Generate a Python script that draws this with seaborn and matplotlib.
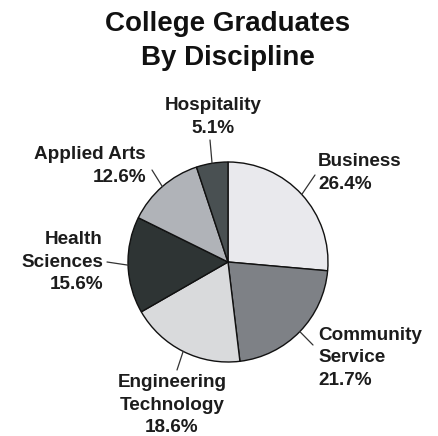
import numpy as np
import matplotlib
matplotlib.use("Agg")
import matplotlib.pyplot as plt
import seaborn as sns

# --- DATA ---
disciplines = ["Business", "Community\nService", "Engineering\nTechnology",
               "Health\nSciences", "Applied Arts", "Hospitality"]
shares = [26.4, 21.7, 18.6, 15.6, 12.6, 5.1]
colors = ["#e9e9ed", "#7e8186", "#d9dadc", "#2e3434", "#b0b3b8", "#495052"]

sns.set_theme(style="white")
plt.rcParams['font.family'] = ['Liberation Sans', 'DejaVu Sans']

W, H = 438, 436
CX, CY, R = 228, 262, 100

fig = plt.figure(figsize=(W / 100, H / 100), dpi=100)
ax = fig.add_axes([(CX - R) / W, (H - CY - R) / H, 2 * R / W, 2 * R / H])

wedges, _ = ax.pie(shares, colors=colors, startangle=90, counterclock=False,
                   wedgeprops=dict(edgecolor="#111111", linewidth=1.0))
ax.set_xlim(-1, 1)
ax.set_ylim(-1, 1)
ax.set_aspect("equal")
ax.axis("off")

# label placement (data units, radius = 1)
text_pos = [(0.90, 0.89, "left"), (0.90, -0.96, "left"), (-0.56, -1.43, "center"),
            (-1.25, 0.0, "right"), (-0.82, 0.96, "right"), (-0.15, 1.45, "center")]
leader_end = [(0.87, 0.87), (0.85, -0.83), (-0.51, -1.08),
              (-1.21, 0.0), (-0.76, 0.92), (-0.18, 1.22)]

for w, name, val, (tx, ty, ha), (lx, ly) in zip(wedges, disciplines, shares, text_pos, leader_end):
    mid = np.deg2rad((w.theta1 + w.theta2) / 2)
    px, py = np.cos(mid), np.sin(mid)
    ax.plot([px, lx], [py, ly], color="#333333", lw=0.9, clip_on=False)
    ax.text(tx, ty, f"{name}\n{val:.1f}%", ha=ha, va="center", multialignment=ha,
            fontsize=13.6, fontweight="bold", color="#1c1c1c", linespacing=1.4,
            clip_on=False)

fig.text(CX / W, 1 - 41 / H, "College Graduates\nBy Discipline", ha="center", va="center",
         fontsize=20, fontweight="bold", color="#111111", linespacing=1.38)

fig.savefig("out.png", dpi=100, facecolor="white")
